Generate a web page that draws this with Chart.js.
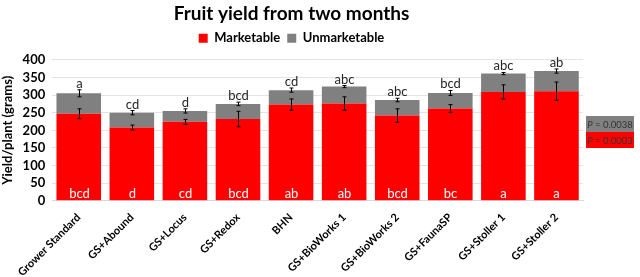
<!DOCTYPE html>
<html>
<head>
<meta charset="utf-8">
<script src="https://cdn.jsdelivr.net/npm/chart.js@4.4.0/dist/chart.umd.min.js"></script>
<style>
    html, body { margin: 0; padding: 0; background: #fff; }
    #wrap { width: 640px; height: 277px; position: relative; }
</style>
</head>
<body>
<div id="wrap"><canvas id="yieldChart"></canvas></div>
<script>
const categories = ['Grower Standard', 'GS+Abound', 'GS+Locus', 'GS+Redox', 'BHN',
    'GS+BioWorks 1', 'GS+BioWorks 2', 'GS+FaunaSP', 'GS+Stoller 1', 'GS+Stoller 2'];
const marketable = [247, 208, 224, 232, 273, 276, 242, 262, 309, 311];
const unmarketable = [58, 42, 31, 43, 41, 48, 44, 44, 52, 57];
const marketableErr = [14, 7, 7, 22, 16, 19, 19, 11, 20, 26];
const totalErr = [10, 6, 6, 5, 6, 3, 5, 7, 3, 6];
const topLetters = ['a', 'cd', 'd', 'bcd', 'cd', 'abc', 'abc', 'bcd', 'abc', 'ab'];
const bottomLetters = ['bcd', 'd', 'cd', 'bcd', 'ab', 'ab', 'bcd', 'bc', 'a', 'a'];
const pValues = ['0.0038', '0.0003'];

const fontFamily = 'Lato, "Open Sans", sans-serif';

// extra room under the legend
const legendGap = {
    id: 'legendGap',
    beforeInit(chart) {
        const fit = chart.legend.fit;
        chart.legend.fit = function () {
            fit.bind(chart.legend)();
            this.height += 5;
        };
    }
};

// error bars, letters and the P value box
const annotations = {
    id: 'annotations',
    afterDatasetsDraw(chart) {
        const ctx = chart.ctx;
        const x = chart.scales.x;
        const y = chart.scales.y;
        ctx.save();
        ctx.strokeStyle = '#000';
        ctx.lineWidth = 1;
        categories.forEach((cat, i) => {
            const cx = Math.round(x.getPixelForValue(i)) + 0.5;
            const total = marketable[i] + unmarketable[i];
            [[marketable[i], marketableErr[i]], [total, totalErr[i]]].forEach(([v, e]) => {
                const y1 = y.getPixelForValue(v - e);
                const y2 = y.getPixelForValue(v + e);
                ctx.beginPath();
                ctx.moveTo(cx, y1); ctx.lineTo(cx, y2);
                ctx.moveTo(cx - 2, y1); ctx.lineTo(cx + 2, y1);
                ctx.moveTo(cx - 2, y2); ctx.lineTo(cx + 2, y2);
                ctx.stroke();
            });
            ctx.font = '13px ' + fontFamily;
            ctx.textAlign = 'center';
            ctx.textBaseline = 'alphabetic';
            ctx.fillStyle = '#262626';
            ctx.fillText(topLetters[i], cx, y.getPixelForValue(total + totalErr[i]) - 2);
            ctx.fillStyle = '#fff';
            ctx.fillText(bottomLetters[i], cx, y.getPixelForValue(0) - 3);
        });

        // P value box
        const bx = 586, bw = 48, bh = 16, by = 116;
        const fills = ['#808080', '#ff0000'];
        pValues.forEach((p, k) => {
            ctx.fillStyle = fills[k];
            ctx.fillRect(bx, by + k * bh, bw, bh);
            ctx.fillStyle = '#333';
            ctx.textBaseline = 'middle';
            ctx.textAlign = 'left';
            const ty = by + k * bh + bh / 2 + 1;
            const rest = ' = ' + p;
            ctx.font = '9.5px ' + fontFamily;
            const rw = ctx.measureText(rest).width;
            ctx.font = 'italic 9.5px ' + fontFamily;
            const pw = ctx.measureText('P').width;
            const sx = bx + (bw - pw - rw) / 2;
            ctx.fillText('P', sx, ty);
            ctx.font = '9.5px ' + fontFamily;
            ctx.fillText(rest, sx + pw, ty);
        });
        ctx.restore();
    }
};

new Chart(document.getElementById('yieldChart'), {
    type: 'bar',
    data: {
        labels: categories,
        datasets: [
            {
                label: 'Marketable',
                data: marketable,
                backgroundColor: '#ff0000',
                barPercentage: 0.84,
                categoryPercentage: 1,
            },
            {
                label: 'Unmarketable',
                data: unmarketable,
                backgroundColor: '#808080',
                barPercentage: 0.84,
                categoryPercentage: 1,
            },
        ],
    },
    options: {
        responsive: true,
        maintainAspectRatio: false,
        animation: false,
        layout: {
            padding: { left: 0, right: 57, top: 0, bottom: -4 },
        },
        plugins: {
            title: {
                display: true,
                text: 'Fruit yield from two months',
                color: '#000',
                font: { family: fontFamily, size: 19, weight: 'bold' },
                padding: { top: 2, bottom: 0 },
            },
            legend: {
                display: true,
                position: 'top',
                labels: {
                    boxWidth: 9,
                    boxHeight: 9,
                    padding: 7,
                    color: '#000',
                    font: { family: fontFamily, size: 13, weight: 'bold' },
                },
            },
            tooltip: { enabled: false },
        },
        scales: {
            x: {
                stacked: true,
                grid: { display: false },
                border: { display: true, color: '#d9d9d9' },
                ticks: {
                    color: '#000',
                    minRotation: 45,
                    maxRotation: 45,
                    padding: 2,
                    font: { family: fontFamily, size: 11, weight: 'bold' },
                },
            },
            y: {
                stacked: true,
                min: 0,
                max: 400,
                ticks: {
                    stepSize: 50,
                    autoSkip: false,
                    color: '#000',
                    padding: 7,
                    font: { family: fontFamily, size: 13, weight: 'bold' },
                },
                grid: { color: '#e3e3e3', drawTicks: false },
                border: { display: false },
                title: {
                    display: true,
                    text: 'Yield/plant (grams)',
                    color: '#000',
                    padding: 0,
                    font: { family: fontFamily, size: 13, weight: 'bold' },
                },
            },
        },
    },
    plugins: [legendGap, annotations],
});
</script>
</body>
</html>
